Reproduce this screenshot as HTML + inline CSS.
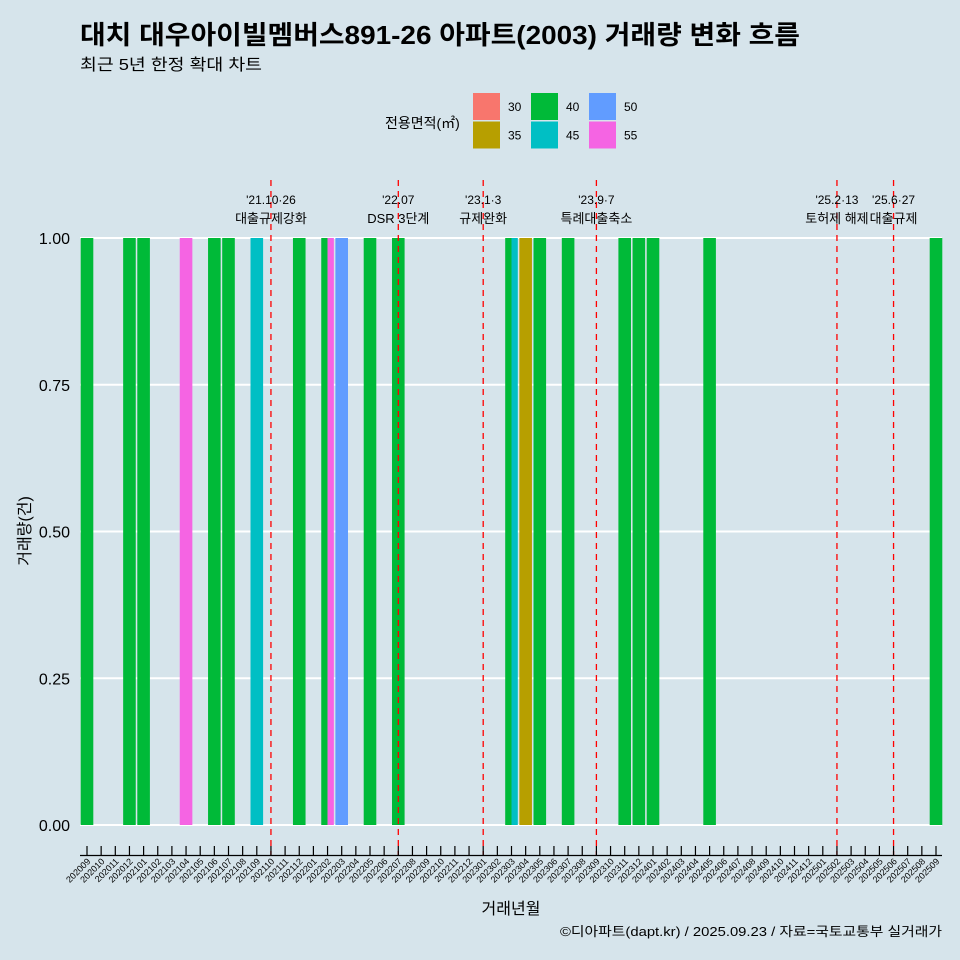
<!DOCTYPE html>
<html><head><meta charset="utf-8">
<style>
html,body{margin:0;padding:0;background:#d6e4eb;}
svg{display:block;font-family:"Liberation Sans","Noto Sans CJK KR",sans-serif;}
</style></head>
<body>
<svg id="chart" width="960" height="960" viewBox="0 0 960 960" preserveAspectRatio="none" xmlns="http://www.w3.org/2000/svg">
<rect width="960" height="960" fill="#d6e4eb"/>
<text x="80" y="44" font-size="26" font-weight="bold" fill="#000" textLength="720" lengthAdjust="spacingAndGlyphs">대치 대우아이빌멤버스891-26 아파트(2003) 거래량 변화 흐름</text>
<text x="80" y="70" font-size="16" fill="#000" textLength="182" lengthAdjust="spacingAndGlyphs">최근 5년 한정 확대 차트</text>
<g id="legend">
<text x="385" y="128" font-size="14">전용면적(㎡)</text>
</g>
<g id="grid"></g><g id="bars"></g><g id="events"></g><g id="xaxis"></g>
<text x="30" y="531" font-size="16" transform="rotate(-90 30 531)" text-anchor="middle">거래량(건)</text>
<text x="511" y="914" font-size="16" text-anchor="middle">거래년월</text>
<text x="560" y="936" font-size="13" textLength="382" lengthAdjust="spacingAndGlyphs">©디아파트(dapt.kr) / 2025.09.23 / 자료=국토교통부 실거래가</text>
</svg>
<script>
const months=[];for(let y=2020,m=9;!(y===2025&&m===10);){months.push(y+String(m).padStart(2,'0'));m++;if(m>12){m=1;y++;}}
const sizes=["30","35","40","45","50","55"];
const sizeColors=["#F8766D","#B79F00","#00BA38","#00BFC4","#619CFF","#F564E3"];
const barMonths=["202009","202012","202101","202104","202106","202107","202109","202112","202202","202202","202203","202205","202207","202303","202303","202304","202305","202307","202311","202312","202401","202405","202509"];
const barSizes=["40","40","40","55","40","40","45","40","40","55","50","40","40","40","45","35","40","40","40","40","40","40","40"];
const barValues=[1,1,1,1,1,1,1,1,1,1,1,1,1,1,1,1,1,1,1,1,1,1,1];
const yTicks=[0,0.25,0.5,0.75,1];
const yTickLabels=["0.00","0.25","0.50","0.75","1.00"];
const eventMonths=["202110","202207","202301","202309","202502","202506"];
const eventLine1=["'21.10·26","'22.07","'23.1·3","'23.9·7","'25.2·13","'25.6·27"];
const eventLine2=["대출규제강화","DSR 3단계","규제완화","특례대출축소","토허제 해제","대출규제"];

const NS="http://www.w3.org/2000/svg";
function mk(t,a,p){const e=document.createElementNS(NS,t);for(const k in a)e.setAttribute(k,a[k]);p.appendChild(e);return e;}
const x0=87,step=14.15,bw=12.6;
const xs=m=>x0+months.indexOf(m)*step;
const ys=v=>825-v*587;
const grid=document.getElementById('grid');
yTicks.forEach((v,i)=>{
 const l=mk('line',{x1:80,x2:942,y1:ys(v),y2:ys(v),stroke:'#fff','stroke-width':2},grid);
 
 
 const t=mk('text',{x:70,y:ys(v)+6,'font-size':16,'text-anchor':'end'},grid);
 t.textContent=yTickLabels[i];
 
 
});
const bars=document.getElementById('bars');
const groups={};barMonths.forEach((m,i)=>{(groups[m]=groups[m]||[]).push(i);});
for(const m in groups){
 const idx=groups[m];const w=bw/idx.length;const cx=xs(m);
 idx.forEach((i,k)=>{
  const r=mk('rect',{x:cx-bw/2+k*w,y:ys(barValues[i]),width:w,height:ys(0)-ys(barValues[i]),fill:sizeColors[sizes.indexOf(barSizes[i])]},bars);
  
  
 });
}
const ev=document.getElementById('events');
eventMonths.forEach((m,i)=>{
 const x=xs(m);
 const l=mk('line',{x1:x,x2:x,y1:180,y2:855,stroke:'#ff0000','stroke-width':1.3,'stroke-dasharray':'6,5'},ev);
 
 
 const t1=mk('text',{x:x,y:204,'font-size':12,'text-anchor':'middle'},ev);t1.textContent=eventLine1[i];
 
 
 const t2=mk('text',{x:x,y:223,'font-size':13,'text-anchor':'middle'},ev);t2.textContent=eventLine2[i];
 
 
});
const xa=document.getElementById('xaxis');
const ax=mk('line',{x1:80,x2:942,y1:855.5,y2:855.5,stroke:'#000','stroke-width':1.3},xa);


months.forEach(m=>{
 const x=xs(m);
 const tk=mk('line',{x1:x,x2:x,y1:846,y2:855,stroke:'#000','stroke-width':1.2},xa);
 
 
 const t=mk('text',{x:x+4,y:862,'font-size':9,'text-anchor':'end',transform:`rotate(-45 ${x+4} 862)`},xa);
 t.textContent=m;
 
 
});
const lg=document.getElementById('legend');
sizes.forEach((s,i)=>{
 const col=Math.floor(i/2),row=i%2;
 const x=473+col*58,y=93+row*28.5;
 const r=mk('rect',{x:x,y:y,width:27,height:27,fill:sizeColors[i]},lg);
 
 
 const t=mk('text',{x:x+35,y:y+18,'font-size':12},lg);t.textContent=s;
 
 
});
</script>
</body></html>
